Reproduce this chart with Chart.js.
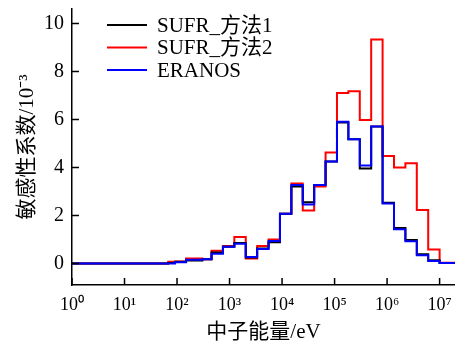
<!DOCTYPE html>
<html>
<head>
<meta charset="utf-8">
<script src="https://cdn.jsdelivr.net/npm/chart.js@4.4.1/dist/chart.umd.min.js"></script>
<style>
  html, body { margin: 0; padding: 0; background: #fff; }
  #wrap { width: 455px; height: 349px; }
</style>
</head>
<body>
<div id="wrap"><canvas id="c"></canvas></div>
<script>
// group edges (eV), ECCO 33 group structure cut at 1 eV
var binEdges = [1, 4, 8.3153, 13.710, 22.603, 40.169, 67.904, 91.661, 148.63, 304.32,
  454.0, 748.52, 1234.1, 2034.7, 3354.6, 5530.8, 9118.8, 15034, 24788, 40868,
  67379, 111090, 183160, 301970, 497870, 820850, 1353400, 2231300, 3678800, 6065300,
  1e7, 1.964e7];

// sensitivity per group, 1e-3
var sufr1 = [0, 0, 0, 0, 0, 0, 0.02, 0.07, 0.12, 0.17, 0.45, 0.69, 0.85, 0.25, 0.62, 0.88,
  2.07, 3.2, 2.55, 3.27, 4.25, 5.87, 5.17, 3.95, 5.7, 2.53, 1.48, 0.97, 0.38, 0.13, 0.02];
var sufr2 = [0, 0, 0, 0, 0, 0, 0.07, 0.08, 0.2, 0.17, 0.53, 0.72, 1.1, 0.2, 0.73, 1.0,
  2.07, 3.33, 2.2, 3.2, 4.62, 7.1, 7.17, 5.97, 9.33, 4.47, 4.0, 4.17, 2.22, 0.58, 0.03];
var eranos = [0, 0, 0, 0, 0, 0, 0, 0.05, 0.15, 0.17, 0.4, 0.69, 0.82, 0.27, 0.6, 0.93,
  2.07, 3.27, 2.45, 3.27, 4.25, 5.9, 5.17, 4.08, 5.7, 2.5, 1.42, 0.92, 0.34, 0.1, 0.02];

var seriesNames = ['SUFR_方法1', 'SUFR_方法2', 'ERANOS'];
var seriesColors = ['#000000', '#ff0000', '#0000ff'];

var xTicks = [1, 10, 100, 1e3, 1e4, 1e5, 1e6, 1e7];
var yTicks = [0, 2, 4, 6, 8, 10];

var serif = '"Liberation Serif", "Times New Roman", "Noto Sans CJK SC", serif';
var sup = '⁰¹²³⁴⁵⁶⁷⁸⁹';

function steps(vals) {
  var pts = [];
  for (var i = 0; i < vals.length; i++) pts.push({ x: binEdges[i], y: vals[i] });
  pts.push({ x: binEdges[vals.length], y: vals[vals.length - 1] });
  return pts;
}

// ticks pointing into the plot
var innerTicks = {
  id: 'innerTicks',
  afterDraw: function (chart) {
    var ctx = chart.ctx, a = chart.chartArea;
    var xs = chart.scales.x, ys = chart.scales.y;
    ctx.save();
    ctx.strokeStyle = '#000';
    ctx.lineWidth = 1.5;
    ctx.beginPath();
    xs.ticks.forEach(function (t) {
      var px = xs.getPixelForValue(t.value);
      ctx.moveTo(px, a.bottom);
      ctx.lineTo(px, a.bottom - 7);
    });
    ys.ticks.forEach(function (t) {
      var py = ys.getPixelForValue(t.value);
      ctx.moveTo(a.left, py);
      ctx.lineTo(a.left + 7, py);
    });
    ctx.stroke();
    ctx.restore();
  }
};

// legend inside the plot, top left
var innerLegend = {
  id: 'innerLegend',
  afterDraw: function (chart) {
    var ctx = chart.ctx, a = chart.chartArea;
    ctx.save();
    ctx.font = '21px ' + serif;
    ctx.textBaseline = 'middle';
    ctx.textAlign = 'left';
    chart.data.datasets.forEach(function (ds, i) {
      var y = a.top + 16 + i * 22.5;
      ctx.strokeStyle = ds.borderColor;
      ctx.lineWidth = 2;
      ctx.beginPath();
      ctx.moveTo(a.left + 35, y);
      ctx.lineTo(a.left + 75, y);
      ctx.stroke();
      ctx.fillStyle = '#000';
      ctx.fillText(ds.label, a.left + 85, y + 1);
    });
    ctx.restore();
  }
};

new Chart(document.getElementById('c'), {
  type: 'line',
  data: {
    datasets: [
      { label: seriesNames[0], data: steps(sufr1), borderColor: seriesColors[0], order: 1 },
      { label: seriesNames[1], data: steps(sufr2), borderColor: seriesColors[1], order: 2 },
      { label: seriesNames[2], data: steps(eranos), borderColor: seriesColors[2], order: 0 }
    ]
  },
  options: {
    responsive: true,
    maintainAspectRatio: false,
    animation: false,
    parsing: false,
    layout: { padding: { top: 9, right: 0, left: 0, bottom: 0 } },
    elements: {
      line: { borderWidth: 2, stepped: true, fill: false, tension: 0 },
      point: { radius: 0 }
    },
    plugins: { legend: { display: false }, tooltip: { enabled: false } },
    scales: {
      x: {
        type: 'logarithmic',
        min: 1,
        max: 1.964e7,
        afterBuildTicks: function (s) { s.ticks = xTicks.map(function (v) { return { value: v }; }); },
        afterFit: function (s) { s.height = 64; s.paddingLeft = 0; s.paddingRight = 0; },
        grid: { display: true, drawOnChartArea: false, drawTicks: false },
        border: { display: true, color: '#000', width: 1.5 },
        ticks: {
          color: '#000',
          font: { family: serif, size: 18 },
          padding: 9,
          maxRotation: 0,
          autoSkip: false,
          callback: function (v) {
            var e = Math.round(Math.log10(v));
            return '10' + sup[e];
          }
        },
        title: {
          display: true,
          text: '中子能量/eV',
          color: '#000',
          font: { family: serif, size: 21 },
          padding: { top: 0, bottom: 4 }
        }
      },
      y: {
        min: -0.9,
        max: 10.6,
        afterBuildTicks: function (s) { s.ticks = yTicks.map(function (v) { return { value: v }; }); },
        afterFit: function (s) { s.width = 72; s.paddingTop = 0; s.paddingBottom = 0; },
        grid: { display: true, drawOnChartArea: false, drawTicks: false },
        border: { display: true, color: '#000', width: 1.5 },
        ticks: {
          color: '#000',
          font: { family: serif, size: 20 },
          padding: 8
        },
        title: {
          display: true,
          text: '敏感性系数/10⁻³',
          color: '#000',
          font: { family: serif, size: 21 },
          padding: { top: 15, bottom: 0 }
        }
      }
    }
  },
  plugins: [innerTicks, innerLegend]
});
</script>
</body>
</html>
